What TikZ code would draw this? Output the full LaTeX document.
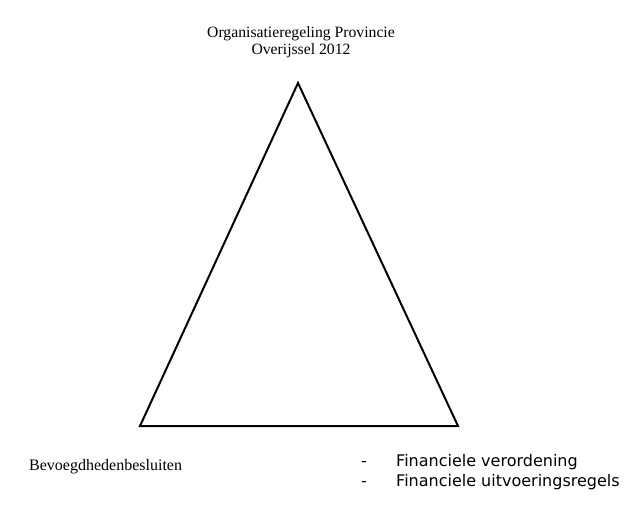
\documentclass[tikz,border=0pt]{standalone}
\usepackage{fontspec}
\setmainfont{Liberation Serif}
\newfontfamily\versans{DejaVu Sans}
\begin{document}
\begin{tikzpicture}[x=1pt,y=-1pt,
  serif/.style={font=\fontsize{15.7}{17}\selectfont, inner sep=0pt, align=center},
  serifleft/.style={font=\fontsize{16}{18}\selectfont, inner sep=0pt, anchor=west},
  sanslist/.style={font=\versans\fontsize{16}{19}\selectfont, inner sep=0pt, anchor=west},
  edge/.style={line width=2pt, line join=miter}]
\useasboundingbox (0,0) rectangle (640,511);
\coordinate (top) at (298,83);
\coordinate (bl) at (140,426);
\coordinate (br) at (458,426);
\draw[edge] (top) -- (br) -- (bl) -- cycle;
\node[serif] (title) at (301,42) {Organisatieregeling Provincie\\Overijssel 2012};
\node[serifleft] (bev) at (29,467) {Bevoegdhedenbesluiten};
\node[sanslist] (f1) at (396,462.5) {Financiele verordening};
\node[sanslist] (f2) at (396,482.5) {Financiele uitvoeringsregels};
\node[sanslist, anchor=base west] (d1) at (f1.base west) [xshift=-35pt] {-};
\node[sanslist, anchor=base west] (d2) at (f2.base west) [xshift=-35pt] {-};
\end{tikzpicture}
\end{document}
